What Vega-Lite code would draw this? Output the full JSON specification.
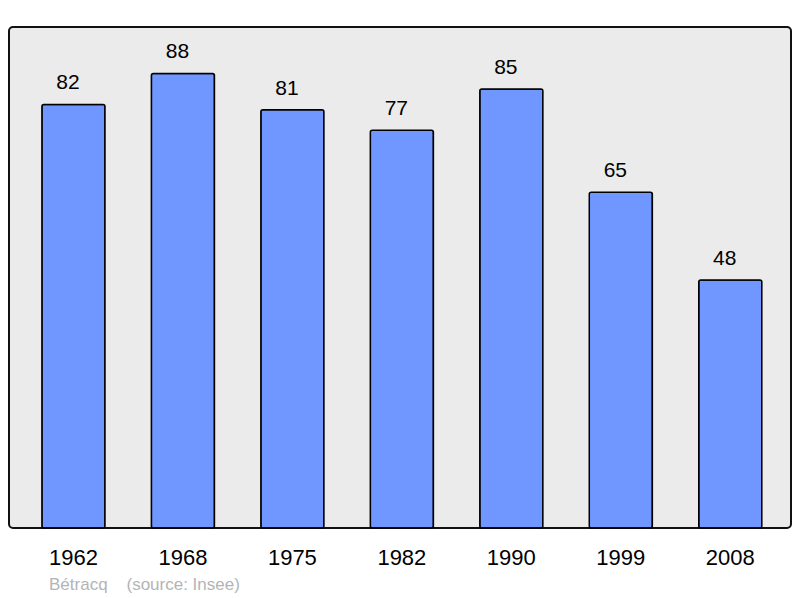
{
  "$schema": "https://vega.github.io/schema/vega-lite/v6.json",
  "width": 782,
  "height": 501,
  "autosize": {"type": "none"},
  "padding": {"left": 9, "top": 27, "right": 9, "bottom": 70},
  "background": "white",
  "config": {
    "view": {"stroke": "#111111", "strokeWidth": 2, "fill": "#ebebeb", "cornerRadius": 4},
    "font": "Liberation Sans"
  },
  "title": {
    "text": "Bétracq\u00a0\u00a0\u00a0\u00a0(source: Insee)",
    "orient": "bottom",
    "anchor": "start",
    "dx": 40,
    "offset": 9,
    "fontSize": 17,
    "fontWeight": "normal",
    "color": "#b4b4b4",
    "font": "Liberation Sans"
  },
  "data": {
    "values": [
      {"year": "1962", "pop": 82},
      {"year": "1968", "pop": 88},
      {"year": "1975", "pop": 81},
      {"year": "1982", "pop": 77},
      {"year": "1990", "pop": 85},
      {"year": "1999", "pop": 65},
      {"year": "2008", "pop": 48}
    ]
  },
  "encoding": {
    "x": {
      "field": "year",
      "type": "ordinal",
      "sort": null,
      "scale": {"paddingInner": 0.4238, "paddingOuter": 0.2835, "align": 0.53},
      "axis": {
        "title": null,
        "domain": false,
        "ticks": false,
        "labelAngle": 0,
        "labelFontSize": 22,
        "labelColor": "#000000",
        "labelPadding": 19,
        "labelFont": "Liberation Sans"
      }
    },
    "y": {
      "field": "pop",
      "type": "quantitative",
      "scale": {"domain": [0, 97], "nice": false, "zero": true},
      "axis": null
    }
  },
  "layer": [
    {
      "mark": {"type": "bar", "fill": "#7096ff", "stroke": "#000000", "strokeWidth": 1.5, "cornerRadius": 2}
    },
    {
      "mark": {"type": "text", "baseline": "alphabetic", "dy": -15, "dx": -5.5, "fontSize": 21, "color": "#000000", "font": "Liberation Sans"},
      "encoding": {"text": {"field": "pop", "type": "quantitative"}}
    }
  ]
}
